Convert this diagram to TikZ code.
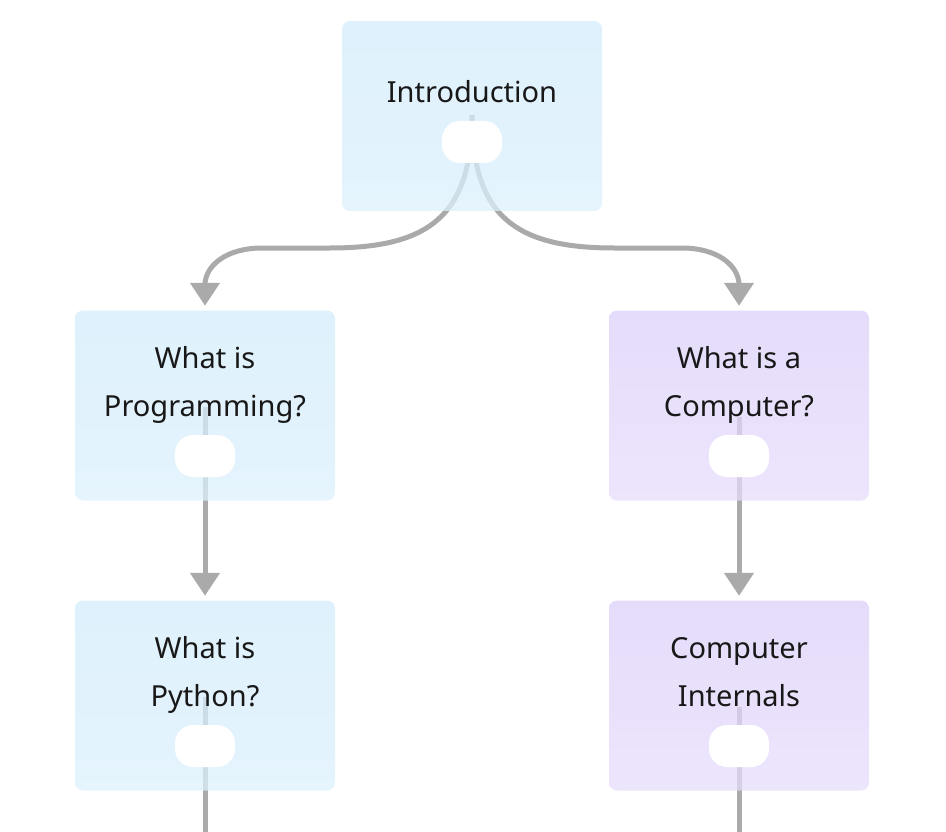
\documentclass[tikz,border=0pt]{standalone}
\usepackage{fontspec}
\setmainfont{Noto Sans}
\usetikzlibrary{arrows.meta}
\definecolor{bluetop}{RGB}{211,236,251}
\definecolor{bluebot}{RGB}{220,240,252}
\definecolor{purptop}{RGB}{220,208,250}
\definecolor{purpbot}{RGB}{231,220,251}
\definecolor{edgegray}{RGB}{170,170,170}
\definecolor{ink}{RGB}{24,24,24}
\pgfdeclarelayer{bg}
\pgfsetlayers{bg,main}
\begin{document}
\begin{tikzpicture}[x=1pt,y=-1pt,
  card/.style={rounded corners=8pt, minimum width=260pt, minimum height=190pt, inner sep=0pt, fill opacity=0.75, draw=none},
  bluecard/.style={card, top color=bluetop, bottom color=bluebot},
  purpcard/.style={card, top color=purptop, bottom color=purpbot},
  pill/.style={fill=white, rounded corners=18pt, minimum width=60pt, minimum height=42pt, inner sep=0pt},
  caption/.style={text=ink, font=\fontsize{29}{48}\selectfont, align=center, anchor=base, inner sep=0pt},
  conn/.style={draw=edgegray, line width=5pt},
  myarrow/.style={-{Triangle[width=29pt,length=23pt]}, shorten >=4.5pt}
]
\useasboundingbox (0,0) rectangle (946,832);
% boxes
\node[bluecard] (intro) at (472,116) {};
\node[bluecard] (prog) at (205,405.5) {};
\node[purpcard] (comp) at (739,405.5) {};
\node[bluecard] (python) at (205,695.5) {};
\node[purpcard] (internals) at (739,695.5) {};
% pills
\node[pill] (p0) at (472,142) {};
\node[pill] (p1) at (205,456) {};
\node[pill] (p2) at (739,456) {};
\node[pill] (p3) at (205,746) {};
\node[pill] (p4) at (739,746) {};
% texts (base anchor = baseline of the last line)
\node[caption] (t0) at (472,103) {Introduction};
\node[caption] (t1) at (205,416) {What is\\Programming?};
\node[caption] (t2) at (739,416) {What is a\\Computer?};
\node[caption] (t3) at (205,706) {What is\\Python?};
\node[caption] (t4) at (739,706) {Computer\\Internals};
% connector start / end points
\coordinate (s0) at (472,115);
\coordinate (s1) at (205,407);
\coordinate (s2) at (739,417);
\coordinate (s3) at (205,697);
\coordinate (s4) at (739,707);
\coordinate (e3) at (205,840);
\coordinate (e4) at (739,840);
\begin{pgfonlayer}{bg}
\draw[conn, myarrow] (s0) .. controls (472,215) and (430,248) .. (330,248) -- (262,248)
  .. controls (226,248) and (205,266) .. (205,285) -- (prog.north);
\draw[conn, myarrow] (s0) .. controls (472,215) and (514,248) .. (614,248) -- (682,248)
  .. controls (718,248) and (739,266) .. (739,285) -- (comp.north);
\draw[conn, myarrow] (s1) -- (python.north);
\draw[conn, myarrow] (s2) -- (internals.north);
\draw[conn] (s3) -- (e3);
\draw[conn] (s4) -- (e4);
\end{pgfonlayer}
\end{tikzpicture}
\end{document}
